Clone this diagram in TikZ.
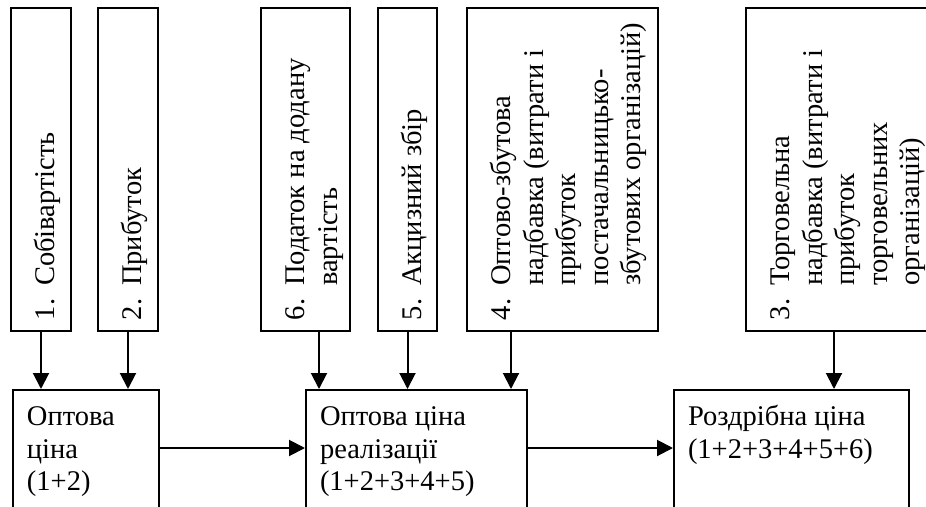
\documentclass[tikz,border=0pt]{standalone}
\usepackage{fontspec}
\setmainfont{Liberation Serif}
\usetikzlibrary{arrows.meta}

% width, height, number, lines (text of the rotated boxes)
\newcommand{\itemtext}[4]{\parbox[c][#2][t]{#1}{\makebox[1.2em][l]{#3}\begin{tabular}[t]{@{}l@{}}#4\end{tabular}}}
% width, lines (text of the price boxes)
\newcommand{\pricetext}[2]{\parbox[c][140pt][t]{#1}{\raggedright\strut #2}}

\begin{document}
\begin{tikzpicture}[
                x=1pt, y=-1pt,
                every node/.style={font=\fontsize{28.5}{32.5}\selectfont},
                topbox/.style={draw, line width=2pt, rotate=90, inner xsep=11pt, inner ysep=21pt},
                pricebox/.style={draw, line width=2pt, anchor=north west, inner xsep=14pt, inner ysep=13pt},
                arrow/.style={-{Triangle[length=16pt,width=16pt]}, line width=2pt}
            ]
            \useasboundingbox (0,0) rectangle (926,506);
            \clip (0,0) rectangle (926,506);

            % components
            \node[topbox] (cost) at (41,169.5) {\itemtext{301pt}{18pt}{1.}{Собівартість}};
            \node[topbox] (profit) at (128,169.5) {\itemtext{301pt}{18pt}{2.}{Прибуток}};
            \node[topbox] (vat) at (305.5,169.5) {\itemtext{301pt}{47pt}{6.}{Податок на додану\\вартість}};
            \node[topbox] (excise) at (407.5,169.5) {\itemtext{301pt}{17pt}{5.}{Акцизний збір}};
            \node[topbox] (whmarkup) at (562.5,169.5) {\itemtext{301pt}{149pt}{4.}{Оптово-збутова\\надбавка (витрати і\\прибуток\\постачальницько-\\збутових організацій)}};
            \node[topbox] (trmarkup) at (841.5,169.5) {\itemtext{301pt}{149pt}{3.}{Торговельна\\надбавка (витрати і\\прибуток\\торговельних\\організацій)}};

            % prices
            \node[pricebox] (wholesale) at (12,389) {\pricetext{118pt}{Оптова\\ціна\\(1+2)}};
            \node[pricebox] (realisation) at (305,389) {\pricetext{193pt}{Оптова ціна\\реалізації\\(1+2+3+4+5)}};
            \node[pricebox] (retail) at (673,389) {\pricetext{207pt}{Роздрібна ціна\\(1+2+3+4+5+6)}};

            \draw[arrow] (cost.west) -- (cost.west |- wholesale.north);
            \draw[arrow] (profit.west) -- (profit.west |- wholesale.north);
            \draw[arrow] ([xshift=13.5pt]vat.west) -- ([xshift=13.5pt]vat.west |- realisation.north);
            \draw[arrow] (excise.west) -- (excise.west |- realisation.north);
            \draw[arrow] ([xshift=-51.5pt]whmarkup.west) -- ([xshift=-51.5pt]whmarkup.west |- realisation.north);
            \draw[arrow] ([xshift=-7.5pt]trmarkup.west) -- ([xshift=-7.5pt]trmarkup.west |- retail.north);

            \draw[arrow] ([yshift=-59pt]wholesale.north east) -- ([yshift=-59pt]realisation.north west);
            \draw[arrow] ([yshift=-59pt]realisation.north east) -- ([yshift=-59pt]retail.north west);

        \end{tikzpicture}
\end{document}
